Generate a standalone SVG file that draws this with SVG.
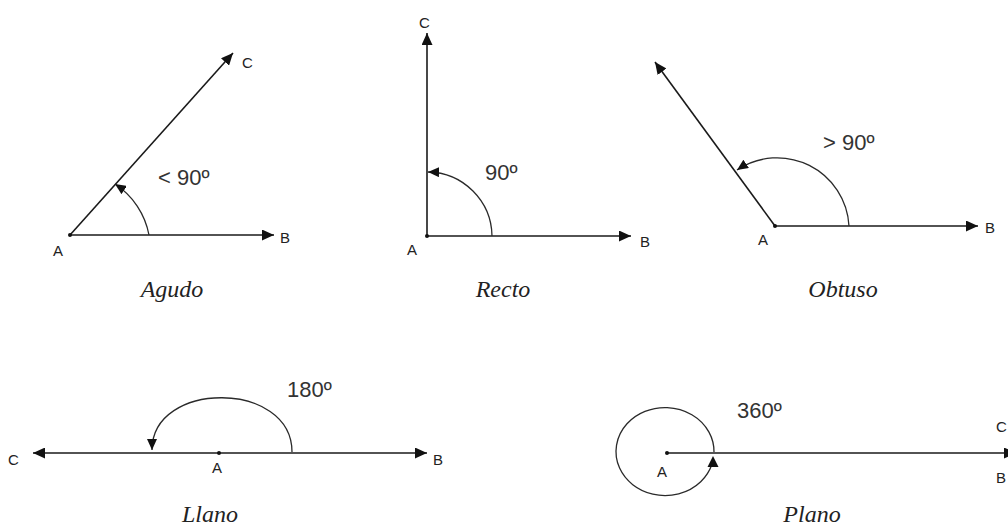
<svg xmlns="http://www.w3.org/2000/svg" width="1008" height="527" viewBox="0 0 1008 527">
<style>
.ray{stroke:#1a1a1a;stroke-width:1.6;fill:none;marker-end:url(#ah)}
.arc{stroke:#2a2a2a;stroke-width:1.3;fill:none;marker-end:url(#ah2)}
.arcn{stroke:#2a2a2a;stroke-width:1.3;fill:none}
.lbl{font-family:"Liberation Sans",Arial,sans-serif;font-size:15px;fill:#222}
.deg{font-family:"Liberation Sans",Arial,sans-serif;font-size:22px;fill:#333}
.cap{font-family:"Liberation Serif","Times New Roman",serif;font-style:italic;font-size:24px;fill:#222;text-anchor:middle}
.dot{fill:#111}
.head{fill:#111}
</style>
<defs>
<marker id="ah" markerUnits="userSpaceOnUse" markerWidth="12" markerHeight="11" refX="12" refY="5.5" orient="auto"><path d="M0,0 L12,5.5 L0,11 z" fill="#111"/></marker>
<marker id="ah2" markerUnits="userSpaceOnUse" markerWidth="11" markerHeight="10" refX="11" refY="5" orient="auto"><path d="M0,0 L11,5 L0,10 z" fill="#111"/></marker>
</defs>
<rect width="1008" height="527" fill="#fff"/>
<g id="connectors">
<line class="ray" x1="70" y1="235" x2="274" y2="235"/>
<line class="ray" x1="70" y1="235" x2="233" y2="53"/>
<path class="arc" d="M149,235 A78,78 0 0,0 115,184"/>
<line class="ray" x1="427" y1="236" x2="631" y2="236"/>
<line class="ray" x1="427" y1="236" x2="427" y2="33"/>
<path class="arc" d="M492,236 A65,65 0 0,0 428,172"/>
<line class="ray" x1="775" y1="226" x2="978" y2="226"/>
<line class="ray" x1="775" y1="226" x2="655" y2="62"/>
<path class="arc" d="M849,226 A72,72 0 0,0 737,170"/>
<line class="ray" x1="219" y1="453" x2="427" y2="453"/>
<line class="ray" x1="219" y1="453" x2="33" y2="453"/>
<path class="arc" d="M292,452 C292,380 152,380 152,450"/>
<line class="ray" x1="667" y1="453" x2="1016" y2="453"/>
<path class="arcn" d="M714,452 A49,44 0 1,0 712,464"/>
<polygon class="head" points="713,456 707.5,467 718.5,467"/>
</g>
<g id="agudo">
<circle class="dot" cx="70" cy="235" r="2"/>
<text class="lbl" x="53" y="256">A</text>
<text class="lbl" x="280" y="243">B</text>
<text class="lbl" x="242" y="68">C</text>
<text class="deg" x="158" y="185">&lt; 90º</text>
<text class="cap" x="172" y="297">Agudo</text>
</g>
<g id="recto">
<circle class="dot" cx="427" cy="236" r="2"/>
<text class="lbl" x="407" y="255">A</text>
<text class="lbl" x="640" y="247">B</text>
<text class="lbl" x="419" y="28">C</text>
<text class="deg" x="485" y="180">90º</text>
<text class="cap" x="503" y="297">Recto</text>
</g>
<g id="obtuso">
<circle class="dot" cx="775" cy="226" r="2"/>
<text class="lbl" x="758" y="245">A</text>
<text class="lbl" x="985" y="233">B</text>
<text class="deg" x="823" y="150">&gt; 90º</text>
<text class="cap" x="843" y="297">Obtuso</text>
</g>
<g id="llano">
<circle class="dot" cx="219" cy="453" r="2"/>
<text class="lbl" x="212" y="473">A</text>
<text class="lbl" x="433" y="465">B</text>
<text class="lbl" x="8" y="465">C</text>
<text class="deg" x="287" y="397">180º</text>
<text class="cap" x="210" y="522">Llano</text>
</g>
<g id="plano">
<circle class="dot" cx="667" cy="453" r="2"/>
<text class="lbl" x="657" y="477">A</text>
<text class="lbl" x="996" y="432">C</text>
<text class="lbl" x="996" y="483">B</text>
<text class="deg" x="737" y="418">360º</text>
<text class="cap" x="812" y="522">Plano</text>
</g>
</svg>
